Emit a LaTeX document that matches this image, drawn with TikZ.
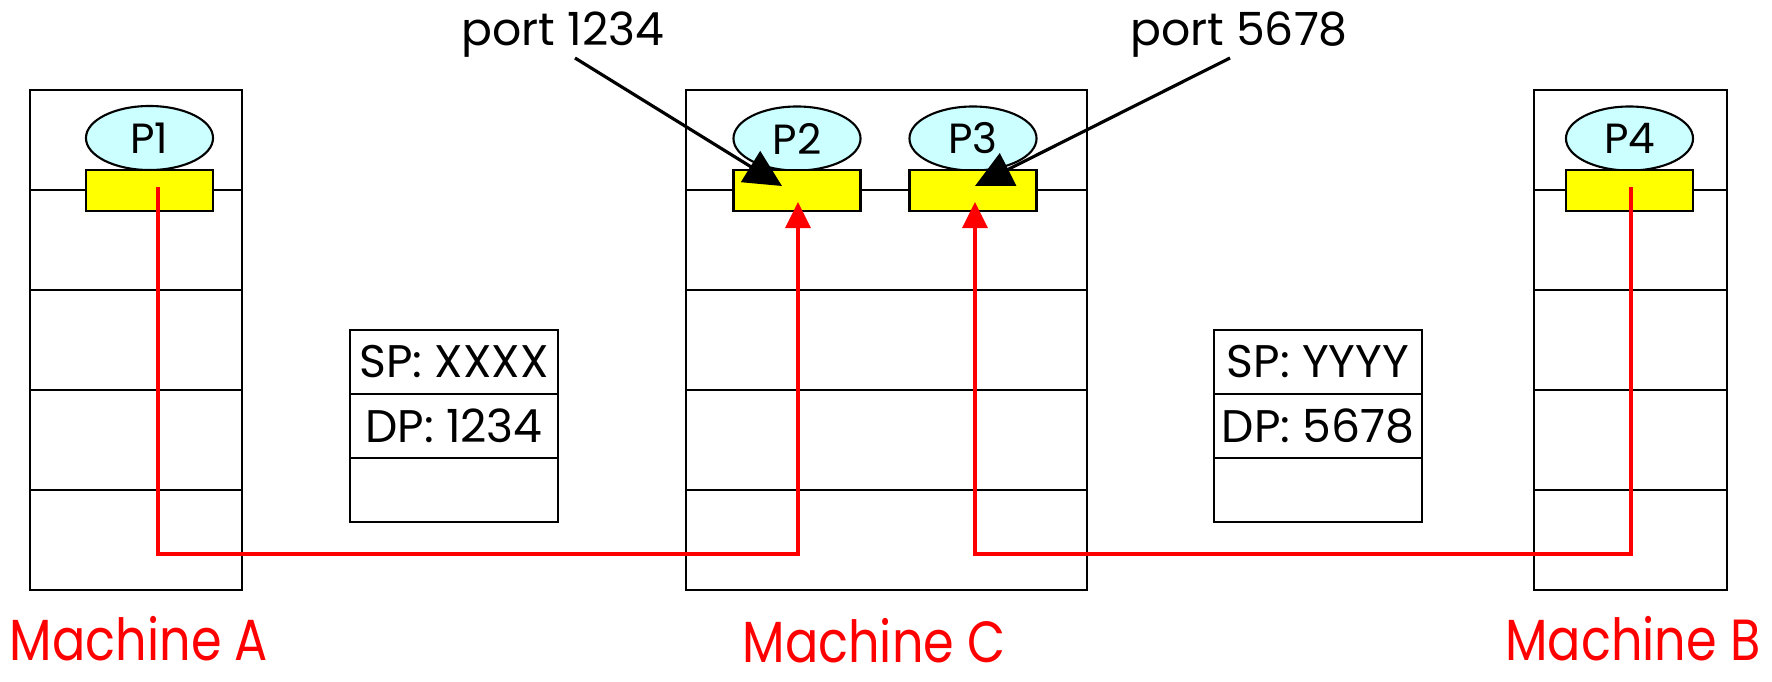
\documentclass[tikz,border=0pt]{standalone}
\usepackage{fontspec}
\setmainfont{Poppins}
\newfontfamily\mlabelfont[FakeStretch=0.85]{Poppins}
\usetikzlibrary{arrows.meta,shapes.geometric}
\definecolor{proccyan}{RGB}{204,255,255}
\definecolor{sockyellow}{RGB}{255,255,0}
\begin{document}
\begin{tikzpicture}[x=0.01cm,y=-0.01cm,
  boxline/.style={draw=black,line width=0.6pt},
  proc/.style={ellipse,boxline,fill=proccyan,minimum width=12.7mm,minimum height=6.4mm,inner sep=0pt,font=\fontsize{12}{14}\selectfont},
  sock/.style={rectangle,boxline,fill=sockyellow,minimum width=12.7mm,minimum height=4.1mm,inner sep=0pt},
  pkt/.style={rectangle,boxline,fill=white,minimum width=20.8mm,minimum height=6.4mm,inner sep=0pt,font=\fontsize{13}{15}\selectfont},
  mlabel/.style={text=red,anchor=base,inner sep=0pt,text depth=0pt,font=\mlabelfont\fontsize{16.5}{18}\selectfont},
  plabel/.style={anchor=base,inner sep=0pt,font=\fontsize{13}{15}\selectfont},
  redline/.style={draw=red,line width=1pt,-{Triangle[length=2.6mm,width=2.5mm]}},
  portarrow/.style={draw=black,line width=0.9pt,-{Triangle[length=3.7mm,width=3.6mm]}}]
\useasboundingbox (0,0) rectangle (1772,681);
\fill[white] (0,0) rectangle (1772,681);

% machine frames
\draw[boxline] (30,90) rectangle (242,590);
\draw[boxline] (686,90) rectangle (1087,590);
\draw[boxline] (1534,90) rectangle (1727,590);
\foreach \yy in {190,290,390,490}{
  \draw[boxline] (30,\yy) -- (242,\yy);
  \draw[boxline] (686,\yy) -- (1087,\yy);
  \draw[boxline] (1534,\yy) -- (1727,\yy);
}

% processes and sockets
\node[proc] (p1) at (149.5,138) {P1};
\node[sock] (s1) at (149.5,190.5) {};
\node[proc] (p2) at (797,138.5) {P2};
\node[sock] (s2) at (797,190.5) {};
\node[proc] (p3) at (973,138.5) {P3};
\node[sock] (s3) at (973,190.5) {};
\node[proc] (p4) at (1629.5,138.5) {P4};
\node[sock] (s4) at (1629.5,190.5) {};

% packets
\node[pkt] (asp) at (454,362) {SP: XXXX};
\node[pkt] (adp) at (454,426) {DP: 1234};
\node[pkt] (aem) at (454,490) {};
\node[pkt] (bsp) at (1318,362) {SP: YYYY};
\node[pkt] (bdp) at (1318,426) {DP: 5678};
\node[pkt] (bem) at (1318,490) {};

% red connections
\coordinate (a1) at (158,187);
\coordinate (t2) at (798,202);
\coordinate (b4) at (1631,187);
\coordinate (t3) at (975,202);
\draw[redline] (a1) |- (798,554) -- (t2);
\draw[redline] (b4) |- (975,554) -- (t3);

% port labels and arrows
\node[plabel] (l1) at (563,45) {port 1234};
\node[plabel] (l2) at (1239,45) {port 5678};
\coordinate (l1s) at (575,58);
\coordinate (l2s) at (1230,58);
\coordinate (h2) at (782,186);
\coordinate (h3) at (975,186);
\draw[portarrow] (l1s) -- (h2);
\draw[portarrow] (l2s) -- (h3);

% machine labels
\node[mlabel] (ma) at (139,660) {Machine A};
\node[mlabel] (mc) at (874,662) {Machine C};
\node[mlabel] (mb) at (1633,660) {Machine B};
\end{tikzpicture}
\end{document}
